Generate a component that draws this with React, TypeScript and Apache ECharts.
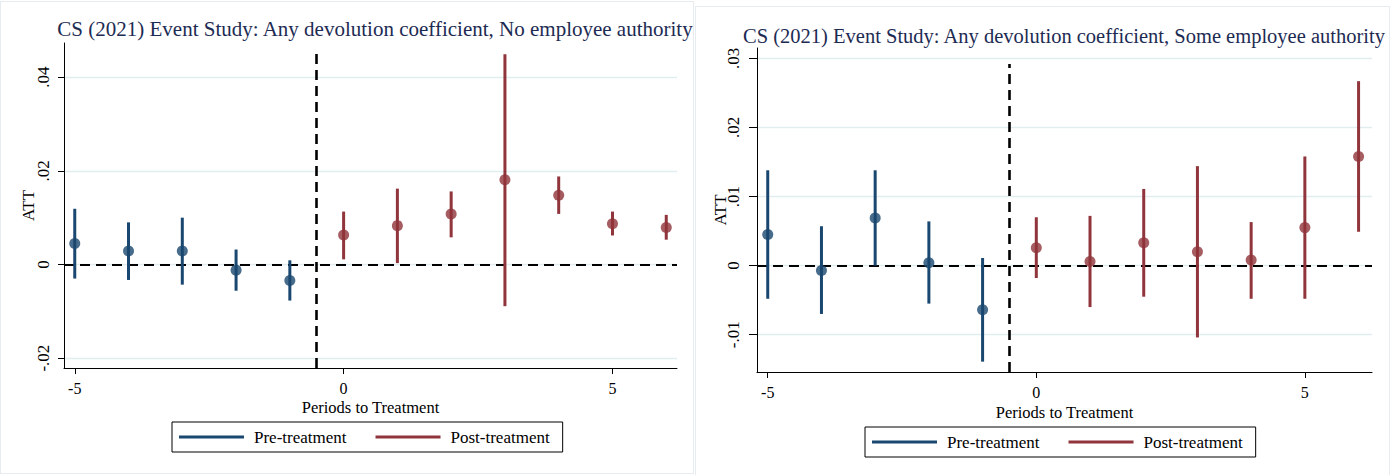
import React, { useEffect, useRef } from 'react';
import * as echarts from 'echarts';

// ---------- data ----------
const prePeriods = [-5, -4, -3, -2, -1];
const postPeriods = [0, 1, 2, 3, 4, 5, 6];
const xTicks = [-5, 0, 5];

// Left panel: No employee authority
const leftTitle = 'CS (2021) Event Study: Any devolution coefficient, No employee authority';
const leftYTicks = [-0.02, 0, 0.02, 0.04];
const leftPreEst = [0.0045, 0.0029, 0.0029, -0.0012, -0.0034];
const leftPreLo = [-0.003, -0.0033, -0.0043, -0.0056, -0.0077];
const leftPreHi = [0.0119, 0.009, 0.01, 0.0032, 0.0009];
const leftPostEst = [0.0063, 0.0083, 0.0108, 0.0181, 0.0148, 0.0087, 0.0079];
const leftPostLo = [0.0011, 0.0003, 0.0058, -0.0089, 0.0108, 0.0062, 0.0053];
const leftPostHi = [0.0113, 0.0162, 0.0156, 0.0449, 0.0188, 0.0113, 0.0106];

// Right panel: Some employee authority
const rightTitle = 'CS (2021) Event Study: Any devolution coefficient, Some employee authority';
const rightYTicks = [-0.01, 0, 0.01, 0.02, 0.03];
const rightPreEst = [0.0045, -0.0007, 0.0069, 0.0004, -0.0064];
const rightPreLo = [-0.0048, -0.007, 0.0, -0.0055, -0.0139];
const rightPreHi = [0.0138, 0.0057, 0.0138, 0.0064, 0.0011];
const rightPostEst = [0.0026, 0.0006, 0.0033, 0.002, 0.0008, 0.0055, 0.0158];
const rightPostLo = [-0.0018, -0.006, -0.0045, -0.0104, -0.0048, -0.0048, 0.0049];
const rightPostHi = [0.007, 0.0072, 0.0111, 0.0144, 0.0063, 0.0158, 0.0267];

const treatmentLine = -0.5;

// ---------- style ----------
const FONT = "'Liberation Serif', 'Times New Roman', serif";
const PRE = '#1a476f';
const POST = '#90353b';
const TITLE_COLOR = '#1d2b53';
const GRID_COLOR = '#e2edf0';

function fmt(v: number) {
  if (Math.abs(v) < 1e-12) return '0';
  const s = Math.abs(v).toFixed(2).replace(/^0/, '');
  return (v < 0 ? '-' : '') + s;
}

function barRenderer(color: string) {
  return (params: any, api: any) => {
    const a = api.coord([api.value(0), api.value(1)]);
    const b = api.coord([api.value(0), api.value(2)]);
    return {
      type: 'line',
      shape: { x1: a[0], y1: a[1], x2: b[0], y2: b[1] },
      style: { stroke: color, lineWidth: 3 },
    };
  };
}

function buildOption(p: any) {
  const pre = prePeriods.map((x, i) => [x, p.preLo[i], p.preHi[i]]);
  const post = postPeriods.map((x, i) => [x, p.postLo[i], p.postHi[i]]);
  const preP = prePeriods.map((x, i) => [x, p.preEst[i]]);
  const postP = postPeriods.map((x, i) => [x, p.postEst[i]]);
  return {
    animation: false,
    backgroundColor: 'transparent',
    title: {
      text: p.title,
      left: p.titleX,
      top: p.titleTop,
      textAlign: 'center',
      textStyle: { fontFamily: FONT, fontSize: p.titleSize, fontWeight: 'normal', color: TITLE_COLOR },
    },
    grid: {
      left: p.grid.left,
      top: p.grid.top,
      width: p.grid.width,
      height: p.grid.height,
      containLabel: false,
      outerBoundsMode: 'none',
    },
    legend: {
      data: ['Pre-treatment', 'Post-treatment'],
      left: p.legend.left,
      top: p.legend.top,
      icon: 'rect',
      itemWidth: 65,
      itemHeight: 3,
      itemGap: 29,
      padding: [6, 13, 6, 7],
      borderColor: '#000',
      borderWidth: 1,
      borderRadius: 0,
      selectedMode: false,
      textStyle: { fontFamily: FONT, fontSize: 17, color: '#000', padding: [0, 0, 0, 5], lineHeight: 18 },
    },
    xAxis: {
      type: 'value',
      min: p.xMin,
      max: p.xMax,
      name: 'Periods to Treatment',
      nameLocation: 'middle',
      nameGap: p.xNameGap,
      nameMoveOverlap: false,
      nameTextStyle: { fontFamily: FONT, fontSize: 16.5, color: '#000' },
      axisLine: { show: true, onZero: false, lineStyle: { color: '#000', width: 1 } },
      axisTick: { show: true, customValues: xTicks, length: 6, lineStyle: { color: '#000', width: 1 } },
      axisLabel: { customValues: xTicks, formatter: (v: number) => String(v), fontFamily: FONT, fontSize: 16, color: '#000', margin: p.xLabelMargin },
      splitLine: { show: false },
    },
    yAxis: {
      type: 'value',
      min: p.yMin,
      max: p.yMax,
      name: 'ATT',
      nameLocation: 'middle',
      nameGap: p.yNameGap,
      nameMoveOverlap: false,
      nameTextStyle: { fontFamily: FONT, fontSize: 17, color: '#000' },
      axisLine: { show: true, onZero: false, lineStyle: { color: '#000', width: 1 } },
      axisTick: { show: true, customValues: p.yTicks, length: p.yTickLen, lineStyle: { color: '#000', width: 1 } },
      axisLabel: { customValues: p.yTicks, rotate: 90, formatter: fmt, fontFamily: FONT, fontSize: 17, color: '#000', margin: p.yLabelMargin },
      splitLine: { show: false },
    },
    series: [
      {
        name: 'gridlines',
        type: 'line',
        data: [],
        silent: true,
        z: 0,
        markLine: {
          silent: true,
          symbol: 'none',
          z: 0,
          label: { show: false },
          lineStyle: { color: GRID_COLOR, width: 1.3, type: 'solid' },
          data: p.yTicks.map((v: number) => ({ yAxis: v })),
        },
      },
      {
        name: 'reference',
        type: 'line',
        data: [],
        silent: true,
        z: 1,
        markLine: {
          silent: true,
          symbol: 'none',
          z: 1,
          label: { show: false },
          data: [
            { yAxis: 0, lineStyle: { color: '#000', width: 1.8, type: [10, 6] } },
            [
              { coord: [treatmentLine, p.yMin], lineStyle: { color: '#000', width: 2.6, type: [10, 6] } },
              { coord: [treatmentLine, p.vTop] },
            ],
          ],
        },
      },
      {
        name: 'Pre-treatment',
        type: 'custom',
        z: 2,
        renderItem: barRenderer(PRE),
        encode: { x: 0, y: [1, 2] },
        itemStyle: { color: PRE },
        data: pre,
      },
      {
        name: 'Pre-treatment',
        type: 'scatter',
        z: 3,
        symbol: 'circle',
        symbolSize: 11,
        itemStyle: { color: PRE },
        data: preP,
      },
      {
        name: 'Post-treatment',
        type: 'custom',
        z: 2,
        renderItem: barRenderer(POST),
        encode: { x: 0, y: [1, 2] },
        itemStyle: { color: POST },
        data: post,
      },
      {
        name: 'Post-treatment',
        type: 'scatter',
        z: 3,
        symbol: 'circle',
        symbolSize: 11,
        itemStyle: { color: POST },
        data: postP,
      },
    ],
  };
}

const leftCfg = {
  title: leftTitle,
  titleX: 370,
  titleTop: 13,
  titleSize: 21,
  grid: { left: 64, top: 43, width: 613, height: 325 },
  legend: { left: 172, top: 422 },
  xMin: -5.2,
  xMax: 6.2,
  yMin: -0.0221,
  yMax: 0.0473,
  vTop: 0.0455,
  yTicks: leftYTicks,
  yTickLen: 6,
  yLabelMargin: 12,
  yNameGap: 27,
  xLabelMargin: 12,
  xNameGap: 31,
  preEst: leftPreEst, preLo: leftPreLo, preHi: leftPreHi,
  postEst: leftPostEst, postLo: leftPostLo, postHi: leftPostHi,
};

const rightCfg = {
  title: rightTitle,
  titleX: 363,
  titleTop: 20,
  titleSize: 20.5,
  grid: { left: 61, top: 48, width: 615, height: 324 },
  legend: { left: 169, top: 427 },
  xMin: -5.2,
  xMax: 6.25,
  yMin: -0.0154,
  yMax: 0.0315,
  vTop: 0.0292,
  yTicks: rightYTicks,
  yTickLen: 8,
  yLabelMargin: 15,
  yNameGap: 28,
  xLabelMargin: 12,
  xNameGap: 32,
  preEst: rightPreEst, preLo: rightPreLo, preHi: rightPreHi,
  postEst: rightPostEst, postLo: rightPostLo, postHi: rightPostHi,
};

function Panel({ cfg, style }: { cfg: any; style: React.CSSProperties }) {
  const ref = useRef<HTMLDivElement>(null);
  useEffect(() => {
    if (!ref.current) return;
    const chart = echarts.init(ref.current, undefined, { renderer: 'svg' });
    chart.setOption(buildOption(cfg) as any);
    return () => chart.dispose();
  }, [cfg]);
  return <div ref={ref} style={style} />;
}

export default function App() {
  return (
    <div style={{ position: 'absolute', left: 0, top: 0, width: 1400, height: 475, background: '#fff', overflow: 'hidden' }}>
      <div style={{ position: 'absolute', left: 0, top: 1, width: 692, height: 471, border: '1px solid #e6ecef' }} />
      <div style={{ position: 'absolute', left: 695, top: 6, width: 693, height: 480, border: '1px solid #e6ecef' }} />
      <Panel cfg={leftCfg} style={{ position: 'absolute', left: 0, top: 0, width: 694, height: 475, overflow: 'hidden' }} />
      <Panel cfg={rightCfg} style={{ position: 'absolute', left: 696, top: 0, width: 694, height: 475, overflow: 'hidden' }} />
    </div>
  );
}
